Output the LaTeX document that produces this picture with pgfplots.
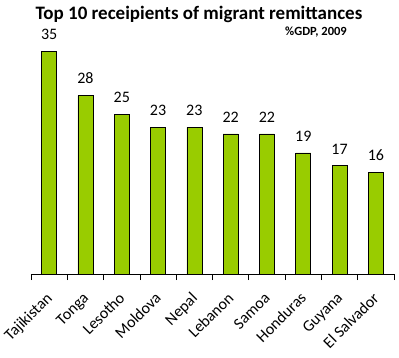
\documentclass[border=0pt]{standalone}
\usepackage{pgfplots}
\pgfplotsset{compat=1.18}
\usepackage{fontspec}
\setmainfont{Carlito}
\definecolor{bargreen}{RGB}{153,204,0}
\begin{document}
\begin{tikzpicture}
\begin{axis}[
  at={(31pt,83pt)}, anchor=south west,
  scale only axis, width=363pt, height=223pt,
  xmin=-0.5, xmax=9.5, ymin=0, ymax=35,
  enlargelimits=false, clip=false,
  axis x line*=bottom, hide y axis,
  axis line style={black, line width=0.8pt},
  /pgf/number format/assume math mode=true,
  xtick={0,...,9},
  xticklabels={Tajikistan,Tonga,Lesotho,Moldova,Nepal,Lebanon,Samoa,Honduras,Guyana,El Salvador},
  major tick length=0pt,
  minor xtick={-0.5,0.5,...,9.5},
  minor tick length=6pt,
  tick align=outside,
  minor tick style={black, line width=0.8pt},
  xticklabel style={xshift=4pt, yshift=-25pt, rotate=45, anchor=base east, font=\fontsize{16}{18}\selectfont, inner sep=0pt},
  ybar, bar width=15pt,
  nodes near coords,
  nodes near coords style={font=\fontsize{16}{18}\selectfont, yshift=8pt},
]
\addplot[fill=bargreen, draw=black, line width=0.6pt] coordinates {
(0,35) (1,28) (2,25) (3,23) (4,23) (5,22) (6,22) (7,19) (8,17) (9,16)};
\end{axis}
\node[font=\bfseries\fontsize{19}{21}\selectfont] at (199pt,343pt) {Top 10 receipients of migrant remittances};
\node[font=\bfseries\fontsize{12.5}{14}\selectfont] at (316pt,325pt) {\%GDP, 2009};
\pgfresetboundingbox
\useasboundingbox (0,0) rectangle (399pt,357pt);
\end{tikzpicture}
\end{document}
